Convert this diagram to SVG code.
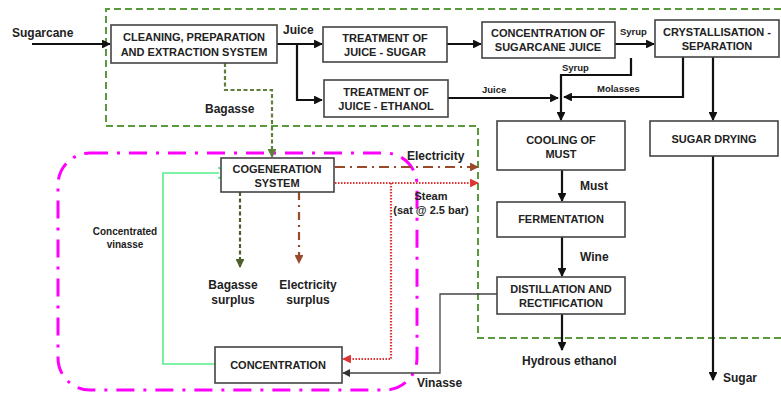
<svg xmlns="http://www.w3.org/2000/svg" width="781" height="397" viewBox="0 0 781 397">
<defs>
<style>
.box{fill:#fff;stroke:#444;stroke-width:1.6}
.bt{font-family:"Liberation Sans",Arial,sans-serif;font-weight:bold;font-size:11px;fill:#222;text-anchor:middle}
.lb{font-family:"Liberation Sans",Arial,sans-serif;font-weight:bold;font-size:12px;fill:#222}
.sm{font-family:"Liberation Sans",Arial,sans-serif;font-weight:bold;font-size:9.5px;fill:#222}
.blk{fill:none;stroke:#111;stroke-width:2.2}
</style>
<marker id="ab" viewBox="0 0 10 10" refX="9" refY="5" markerWidth="4" markerHeight="4" orient="auto" markerUnits="strokeWidth"><path d="M0,0 L10,5 L0,10 z" fill="#111"/></marker>
<marker id="ag" viewBox="0 0 10 10" refX="9" refY="5" markerWidth="6" markerHeight="6" orient="auto" markerUnits="strokeWidth"><path d="M0,0 L10,5 L0,10 z" fill="#333"/></marker>
<marker id="ao" viewBox="0 0 10 10" refX="9" refY="5" markerWidth="4" markerHeight="4" orient="auto" markerUnits="strokeWidth"><path d="M0,0 L10,5 L0,10 z" fill="#5f7f3a"/></marker>
<marker id="ad" viewBox="0 0 10 10" refX="9" refY="5" markerWidth="4" markerHeight="4" orient="auto" markerUnits="strokeWidth"><path d="M0,0 L10,5 L0,10 z" fill="#4f5f2a"/></marker>
<marker id="abr" viewBox="0 0 10 10" refX="9" refY="5" markerWidth="4" markerHeight="4" orient="auto" markerUnits="strokeWidth"><path d="M0,0 L10,5 L0,10 z" fill="#9a4a2a"/></marker>
<marker id="ar" viewBox="0 0 10 10" refX="9" refY="5" markerWidth="4" markerHeight="4" orient="auto" markerUnits="strokeWidth"><path d="M0,0 L10,5 L0,10 z" fill="#dd3333"/></marker>
<marker id="agr" viewBox="0 0 10 10" refX="1" refY="5" markerWidth="7" markerHeight="7" orient="auto" markerUnits="strokeWidth"><path d="M0,0 L10,5 L0,10" fill="none" stroke="#55ee88" stroke-width="1.6"/></marker>
</defs>
<rect width="781" height="397" fill="#fff"/>

<!-- boundaries -->
<g id="boundaries">
<path d="M781,9 H106 V126 H478 V338 H781" fill="none" stroke="#5a9a3c" stroke-width="2" stroke-dasharray="7 4"/>
<rect x="58" y="153" width="359" height="237" rx="32" ry="32" fill="none" stroke="#ff00ff" stroke-width="3" stroke-dasharray="18 9 3 9"/>
</g>

<!-- connectors -->
<g id="connectors">
<path class="blk" d="M32,44 H110" marker-end="url(#ab)"/>
<path class="blk" d="M277,44 H322" marker-end="url(#ab)"/>
<path class="blk" d="M297,44 V100 H322" marker-end="url(#ab)"/>
<path class="blk" d="M447,44 H481" marker-end="url(#ab)"/>
<path class="blk" d="M615,44 H654" marker-end="url(#ab)"/>
<path class="blk" d="M631,58 V75 H561 V120" marker-end="url(#ab)"/>
<path class="blk" d="M448,98 H558" marker-end="url(#ab)"/>
<path class="blk" d="M683,57 V97 H564" marker-end="url(#ab)"/>
<path class="blk" d="M713,57 V120" marker-end="url(#ab)"/>
<path class="blk" d="M713,156 V380" marker-end="url(#ab)"/>
<path class="blk" d="M562,170 V201" marker-end="url(#ab)"/>
<path class="blk" d="M562,237 V276" marker-end="url(#ab)"/>
<path class="blk" d="M562,314 V350" marker-end="url(#ab)"/>
<path d="M497,294 H440 V373 H343" fill="none" stroke="#444" stroke-width="1.3" marker-end="url(#ag)"/>
<path d="M225,63 V90 H272 V157" fill="none" stroke="#5f7f3a" stroke-width="2.2" stroke-dasharray="4 2.5" marker-end="url(#ao)"/>
<path d="M335,167 H478" fill="none" stroke="#9a4a2a" stroke-width="2.2" stroke-dasharray="10 5 2 5" marker-end="url(#abr)"/>
<path d="M335,183 H478" fill="none" stroke="#dd3333" stroke-width="2.2" stroke-dasharray="1.5 1.5" marker-end="url(#ar)"/>
<path d="M391,183 V359 H343" fill="none" stroke="#dd3333" stroke-width="2.2" stroke-dasharray="1.5 1.5" marker-end="url(#ar)"/>
<path d="M240,192 V267" fill="none" stroke="#4f5f2a" stroke-width="2.2" stroke-dasharray="4 2.5" marker-end="url(#ad)"/>
<path d="M299,192 V263" fill="none" stroke="#9a4a2a" stroke-width="2.2" stroke-dasharray="8 5 2 5" marker-end="url(#abr)"/>
<path d="M215,364 H163 V173 H219" fill="none" stroke="#55ee88" stroke-width="1.6" marker-end="url(#agr)"/>
</g>

<!-- labels -->
<g id="labels">
<text class="lb" x="12" y="37">Sugarcane</text>
<text class="lb" x="283" y="34">Juice</text>
<text class="lb" x="205" y="113">Bagasse</text>
<text class="sm" x="620" y="35">Syrup</text>
<text class="sm" x="562" y="71">Syrup</text>
<text class="sm" x="482" y="93">Juice</text>
<text class="sm" x="597" y="92">Molasses</text>
<text class="lb" x="407" y="160">Electricity</text>
<text class="bt" x="431" y="200">Steam</text>
<text class="bt" x="431" y="214">(sat @ 2.5 bar)</text>
<text class="lb" x="580" y="190">Must</text>
<text class="lb" x="580" y="261">Wine</text>
<text class="lb" x="522" y="365">Hydrous ethanol</text>
<text class="lb" x="723" y="382">Sugar</text>
<text class="lb" x="417" y="387">Vinasse</text>
<text class="sm" x="125" y="235" text-anchor="middle" style="font-size:10px">Concentrated</text>
<text class="sm" x="125" y="248" text-anchor="middle" style="font-size:10px">vinasse</text>
<text class="lb" x="233" y="289" text-anchor="middle">Bagasse</text>
<text class="lb" x="233" y="304" text-anchor="middle">surplus</text>
<text class="lb" x="308" y="289" text-anchor="middle">Electricity</text>
<text class="lb" x="308" y="304" text-anchor="middle">surplus</text>
</g>

<!-- nodes -->
<g id="cleaning"><rect class="box" x="111" y="25" width="166" height="38"/><text class="bt" x="194" y="41">CLEANING, PREPARATION</text><text class="bt" x="194" y="56">AND EXTRACTION SYSTEM</text></g>
<g id="treat-sugar"><rect class="box" x="323" y="27" width="124" height="35"/><text class="bt" x="385" y="42">TREATMENT OF</text><text class="bt" x="385" y="56">JUICE - SUGAR</text></g>
<g id="concentration-juice"><rect class="box" x="482" y="22" width="133" height="36"/><text class="bt" x="548" y="37">CONCENTRATION OF</text><text class="bt" x="548" y="51">SUGARCANE JUICE</text></g>
<g id="crystallisation"><rect class="box" x="655" y="20" width="124" height="37"/><text class="bt" x="717" y="36">CRYSTALLISATION -</text><text class="bt" x="717" y="50">SEPARATION</text></g>
<g id="treat-ethanol"><rect class="box" x="324" y="80" width="124" height="37"/><text class="bt" x="386" y="96">TREATMENT OF</text><text class="bt" x="386" y="110">JUICE - ETHANOL</text></g>
<g id="cooling"><rect class="box" x="497" y="121" width="128" height="49"/><text class="bt" x="561" y="144">COOLING OF</text><text class="bt" x="561" y="158">MUST</text></g>
<g id="sugar-drying"><rect class="box" x="650" y="121" width="128" height="35"/><text class="bt" x="714" y="143">SUGAR DRYING</text></g>
<g id="fermentation"><rect class="box" x="497" y="202" width="128" height="35"/><text class="bt" x="561" y="223">FERMENTATION</text></g>
<g id="distillation"><rect class="box" x="497" y="277" width="128" height="37"/><text class="bt" x="561" y="293">DISTILLATION AND</text><text class="bt" x="561" y="307">RECTIFICATION</text></g>
<g id="cogeneration"><rect class="box" x="221" y="158" width="113" height="34"/><text class="bt" x="277" y="173">COGENERATION</text><text class="bt" x="277" y="187">SYSTEM</text></g>
<g id="concentration"><rect class="box" x="215" y="347" width="127" height="36"/><text class="bt" x="278" y="369">CONCENTRATION</text></g>
</svg>
